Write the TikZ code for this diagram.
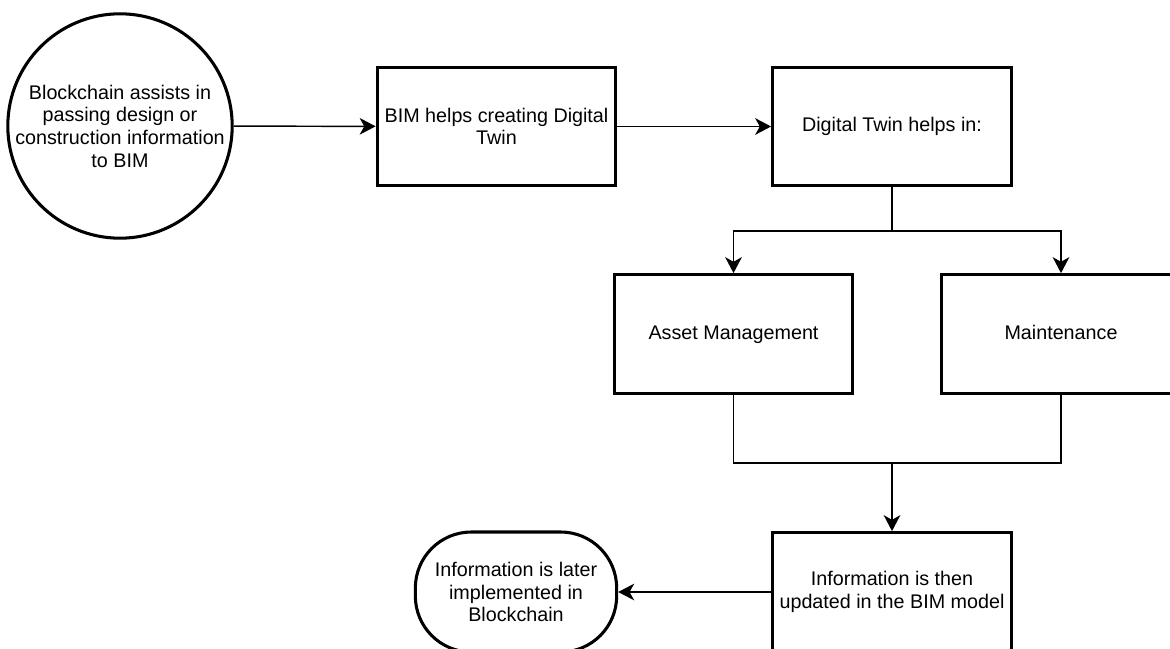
\documentclass[tikz,border=0pt]{standalone}
\usepackage{fontspec}
\setmainfont{Liberation Sans}
\usetikzlibrary{arrows.meta}

\begin{document}
\begin{tikzpicture}[x=0.75pt, y=-0.75pt,
  every node/.append style={font=\fontsize{14.8}{17}\selectfont, align=center, inner sep=0pt},
  box/.style={draw, line width=2.3pt, minimum width=179pt, minimum height=89pt},
  single/.style={text height=10.7pt, text depth=3.1pt},
  disc/.style={draw, circle, line width=2.3pt, minimum size=165pt},
  oval/.style={draw, rounded corners=42pt, line width=2.3pt, minimum width=151pt, minimum height=90pt},
  link/.style={line width=1.1pt},
  arr/.style={link, -{Stealth[length=12pt, width=12.5pt, inset=3.5pt]}}]
  \useasboundingbox (0,0) rectangle (1170,649);
  % blocos (coordenadas em px da figura original)
  \node[disc] (chain) at (120,126)
    {Blockchain assists in\\passing design or\\construction information\\to BIM};
  \node[box] (bim) at (496.5,126.5) {BIM helps creating Digital\\Twin};
  \node[box, single] (twin) at (892,126.5) {Digital Twin helps in:};
  \node[box, single] (asset) at (733.5,334) {Asset Management};
  \node[box, single] (maint) at (1061,334) {Maintenance};
  \node[box] (update) at (892,592) {Information is then\\updated in the BIM model};
  \node[oval] (later) at (516,592) {Information is later\\implemented in\\Blockchain};
  \coordinate (fork) at (892,231);
  \coordinate (merge) at (892,463);
  % ligacoes
  \draw[arr] (chain) -- (bim);
  \draw[arr] (bim) -- (twin);
  \draw[link] (twin.south) -- (fork);
  \draw[arr] (fork) -| (asset);
  \draw[arr] (fork) -| (maint);
  \draw[link] (asset.south) |- (merge) -| (maint.south);
  \draw[arr] (merge) -- (update);
  \draw[arr] (update) -- (later);
\end{tikzpicture}
\end{document}
